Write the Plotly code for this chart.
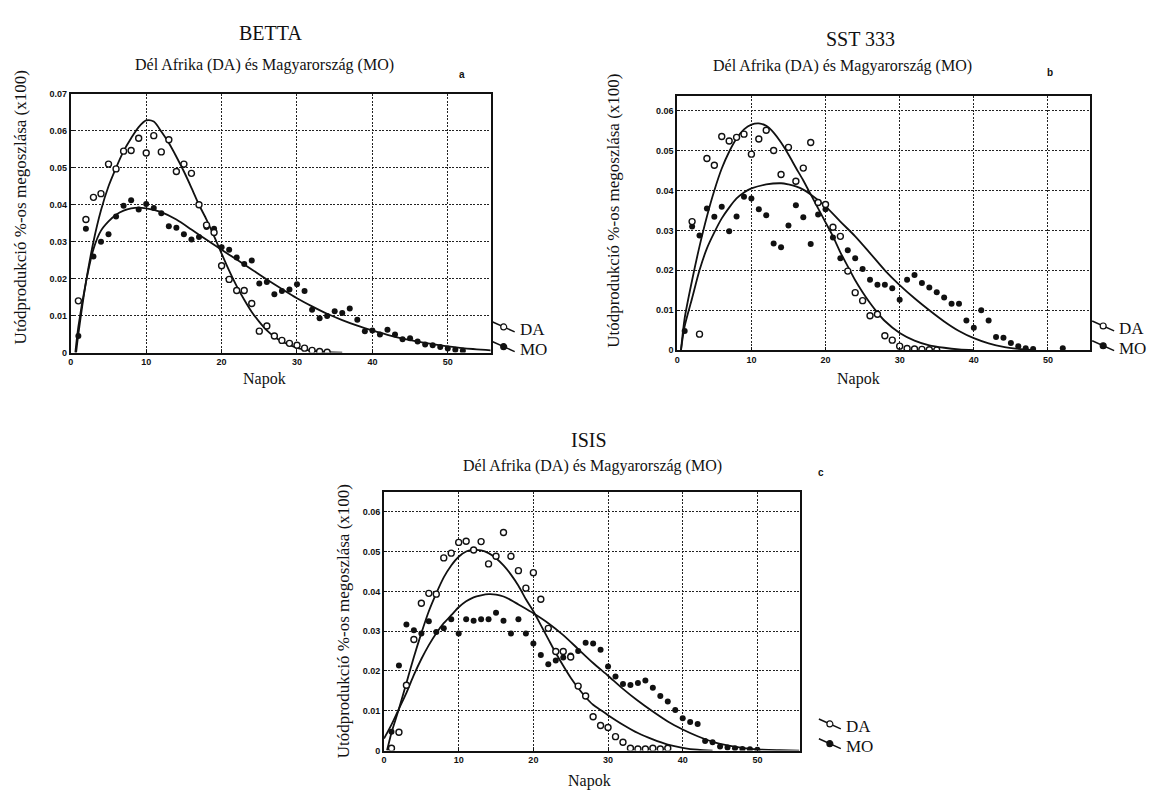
import plotly.graph_objects as go

# ---------------- DATA ----------------
# Panel a: BETTA
betta_da_days = list(range(1, 35))
betta_da = [0.014, 0.036, 0.042, 0.043, 0.051, 0.0497, 0.0545, 0.0547, 0.058, 0.054,
            0.0587, 0.0543, 0.0576, 0.049, 0.051, 0.0485, 0.040, 0.0345, 0.0325, 0.0235,
            0.0198, 0.0168, 0.0168, 0.0133, 0.0058, 0.0072, 0.0045, 0.0033, 0.0025, 0.002,
            0.0012, 0.0006, 0.0003, 0.0001]
betta_mo_days = list(range(1, 53))
betta_mo = [0.0045, 0.0335, 0.026, 0.030, 0.032, 0.0368, 0.0397, 0.0412, 0.0387, 0.0402,
            0.0391, 0.0377, 0.0342, 0.0338, 0.032, 0.0306, 0.0313, 0.034, 0.0335, 0.0285,
            0.0278, 0.0257, 0.024, 0.0249, 0.0187, 0.0191, 0.0158, 0.0167, 0.0171, 0.0185,
            0.0167, 0.0116, 0.0093, 0.0099, 0.0112, 0.0107, 0.0119, 0.0089, 0.0058, 0.006,
            0.0049, 0.0062, 0.0049, 0.0036, 0.0039, 0.003, 0.0022, 0.002, 0.0015, 0.0011,
            0.0008, 0.0005]
betta_da_fit_days = [0.7, 1, 2, 3, 4, 5, 6, 7, 8, 9, 10, 11, 12, 13, 14, 15, 16, 17, 18, 19,
                     20, 21, 22, 23, 24, 25, 26, 27, 28, 30, 32, 34, 36]
betta_da_fit = [0, 0.005, 0.019, 0.030, 0.0385, 0.045, 0.050, 0.0545, 0.058, 0.061, 0.0628,
                0.0625, 0.0598, 0.0567, 0.053, 0.049, 0.0446, 0.040, 0.036, 0.0315, 0.0268,
                0.0222, 0.018, 0.0143, 0.011, 0.0083, 0.006, 0.0043, 0.003, 0.0013, 0.0005,
                0.0001, 0]
betta_mo_fit_days = [0.6, 1, 2, 3, 4, 5, 6, 7, 8, 9, 10, 11, 12, 14, 16, 18, 20, 22, 24, 26,
                     28, 30, 32, 34, 36, 38, 40, 42, 44, 46, 48, 50, 52, 55.7]
betta_mo_fit = [0, 0.007, 0.019, 0.028, 0.033, 0.0355, 0.0373, 0.0384, 0.039, 0.0392, 0.039,
                0.0386, 0.038, 0.036, 0.0333, 0.0305, 0.0278, 0.0252, 0.0225, 0.0198, 0.0172,
                0.0147, 0.0125, 0.0105, 0.0088, 0.0073, 0.006, 0.0048, 0.0038, 0.003, 0.0023,
                0.0017, 0.0012, 0.0006]

# Panel b: SST 333
sst_da_days = list(range(2, 36))
sst_da = [0.0322, 0.004, 0.048, 0.0463, 0.0535, 0.0524, 0.0533, 0.0541, 0.0491, 0.0529,
          0.0551, 0.050, 0.044, 0.0508, 0.0423, 0.0456, 0.052, 0.037, 0.0365, 0.0308,
          0.0285, 0.0198, 0.0144, 0.0124, 0.0086, 0.009, 0.0036, 0.0025, 0.001, 0.0004,
          0.0003, 0.0002, 0.0001, 0.0]
sst_mo_days = list(range(1, 49)) + [52]
sst_mo = [0.0048, 0.031, 0.0287, 0.0355, 0.0334, 0.0359, 0.0298, 0.0335, 0.0384, 0.038,
          0.0353, 0.0338, 0.0267, 0.0258, 0.0312, 0.0363, 0.0333, 0.0266, 0.034, 0.0353,
          0.0282, 0.023, 0.025, 0.023, 0.0203, 0.0176, 0.0164, 0.0164, 0.0155, 0.0126,
          0.0176, 0.0188, 0.0168, 0.0157, 0.0145, 0.0132, 0.0116, 0.0116, 0.0074, 0.0056,
          0.010, 0.0074, 0.0033, 0.0031, 0.0018, 0.001, 0.0005, 0.0003, 0.0005]
sst_da_fit_days = [0.5, 1, 2, 3, 4, 5, 6, 7, 8, 9, 10, 11, 12, 13, 14, 15, 16, 17, 18, 19,
                   20, 21, 22, 23, 24, 25, 26, 27, 28, 30, 32, 34, 36, 38, 40]
sst_da_fit = [0, 0.008, 0.0175, 0.026, 0.0335, 0.040, 0.0455, 0.0497, 0.053, 0.0553, 0.0565,
              0.0568, 0.0562, 0.0545, 0.052, 0.049, 0.0457, 0.0425, 0.039, 0.0355, 0.032,
              0.0285, 0.0245, 0.021, 0.0175, 0.0145, 0.0118, 0.0094, 0.0073, 0.0043, 0.0024,
              0.0012, 0.0006, 0.0002, 0]
sst_mo_fit_days = [0.5, 1, 2, 3, 4, 5, 6, 7, 8, 9, 10, 12, 14, 15, 16, 17, 18, 20, 22, 24,
                   26, 28, 30, 32, 34, 36, 38, 40, 42, 44, 46, 48]
sst_mo_fit = [0, 0.006, 0.013, 0.02, 0.0255, 0.0295, 0.033, 0.0357, 0.038, 0.0395, 0.0405,
              0.0415, 0.0418, 0.0415, 0.041, 0.0402, 0.039, 0.036, 0.0322, 0.0285, 0.0243,
              0.02, 0.0163, 0.013, 0.010, 0.0072, 0.0048, 0.003, 0.0017, 0.0008, 0.0003, 0]

# Panel c: ISIS
isis_da_days = list(range(1, 39))
isis_da = [0.0006, 0.0046, 0.0164, 0.0279, 0.037, 0.0395, 0.0393, 0.0484, 0.0496, 0.0523,
           0.0526, 0.0504, 0.0525, 0.0469, 0.0488, 0.0548, 0.0488, 0.0452, 0.0408, 0.0447,
           0.038, 0.0307, 0.0249, 0.0249, 0.0235, 0.0162, 0.0137, 0.0085, 0.0063, 0.0058,
           0.0035, 0.0021, 0.0006, 0.0004, 0.0004, 0.0006, 0.0004, 0.0006]
isis_mo_days = list(range(1, 51))
isis_mo = [0.0047, 0.0214, 0.0317, 0.0302, 0.0294, 0.0325, 0.0298, 0.0307, 0.033, 0.0294,
           0.033, 0.0326, 0.033, 0.033, 0.0346, 0.0326, 0.0294, 0.033, 0.0294, 0.0269,
           0.024, 0.0217, 0.0226, 0.0234, 0.0239, 0.025, 0.0271, 0.0269, 0.0253, 0.0211,
           0.0186, 0.0167, 0.0165, 0.017, 0.0176, 0.0158, 0.0137, 0.0123, 0.0102, 0.0081,
           0.0072, 0.0067, 0.0024, 0.0021, 0.001, 0.0008, 0.0006, 0.0004, 0.0003, 0.0002]
isis_da_fit_days = [0.4, 1, 2, 3, 4, 5, 6, 7, 8, 9, 10, 11, 12, 13, 14, 15, 16, 17, 18, 19,
                    20, 21, 22, 23, 24, 25, 26, 27, 28, 29, 30, 32, 34, 36, 38, 40, 42, 44]
isis_da_fit = [0, 0.0045, 0.0105, 0.017, 0.0235, 0.0295, 0.035, 0.0395, 0.0435, 0.0465,
               0.0487, 0.050, 0.0504, 0.0503, 0.0496, 0.0483, 0.0465, 0.0442, 0.0414, 0.038,
               0.035, 0.0315, 0.028, 0.0245, 0.0213, 0.0183, 0.0157, 0.0134, 0.0115, 0.0102,
               0.0089, 0.0065, 0.0044, 0.0028, 0.0015, 0.0007, 0.0002, 0]
isis_mo_fit_days = [0, 1, 2, 3, 4, 5, 6, 7, 8, 9, 10, 11, 12, 13, 14, 15, 16, 17, 18, 20,
                    22, 24, 26, 28, 30, 32, 34, 36, 38, 40, 42, 44, 46, 48, 50, 53, 55.6]
isis_mo_fit = [0.003, 0.0065, 0.0105, 0.0145, 0.019, 0.023, 0.0265, 0.0295, 0.032, 0.034,
               0.036, 0.0375, 0.0385, 0.039, 0.0393, 0.0392, 0.0387, 0.0378, 0.0367, 0.0345,
               0.032, 0.029, 0.0255, 0.022, 0.0188, 0.0155, 0.0125, 0.0098, 0.0073, 0.0053,
               0.0036, 0.0022, 0.0013, 0.0007, 0.0003, 0.0001, 0]

x_ticks = [0, 10, 20, 30, 40, 50]
y_ticks_a = [0, 0.01, 0.02, 0.03, 0.04, 0.05, 0.06, 0.07]
y_ticks_bc = [0, 0.01, 0.02, 0.03, 0.04, 0.05, 0.06]

titles = ["BETTA", "SST 333", "ISIS"]
subtitle = "Dél Afrika (DA) és Magyarország (MO)"
ytitle = "Utódprodukció %-os megoszlása (x100)"
xtitle = "Napok"
letters = ["a", "b", "c"]

# ---------------- LAYOUT HELPERS ----------------
W, H = 1169, 800


def fx(px):
    return px / W


def fy(py):
    return 1 - py / H


SERIF = "Liberation Serif"
SANS = "Liberation Sans"

panels = [
    dict(x=betta_da_days, y=betta_da, x2=betta_mo_days, y2=betta_mo,
         fx1=betta_da_fit_days, fy1=betta_da_fit, fx2=betta_mo_fit_days, fy2=betta_mo_fit,
         px=(68, 489), py=(90, 352), yr=0.07, yt=y_ticks_a),
    dict(x=sst_da_days, y=sst_da, x2=sst_mo_days, y2=sst_mo,
         fx1=sst_da_fit_days, fy1=sst_da_fit, fx2=sst_mo_fit_days, fy2=sst_mo_fit,
         px=(676, 1090), py=(92, 349.5), yr=0.0637, yt=y_ticks_bc),
    dict(x=isis_da_days, y=isis_da, x2=isis_mo_days, y2=isis_mo,
         fx1=isis_da_fit_days, fy1=isis_da_fit, fx2=isis_mo_fit_days, fy2=isis_mo_fit,
         px=(382, 799), py=(493, 755), yr=0.065, yt=y_ticks_bc),
]

fig = go.Figure()
layout = dict(width=W, height=H, margin=dict(l=0, r=0, t=0, b=0),
              paper_bgcolor="white", plot_bgcolor="white", showlegend=False)

for i, p in enumerate(panels):
    n = "" if i == 0 else str(i + 1)
    xa, ya = "x" + n, "y" + n
    fig.add_trace(go.Scatter(x=p["fx1"], y=p["fy1"], mode="lines", xaxis=xa, yaxis=ya,
                             line=dict(color="#111", width=1.8, shape="spline", smoothing=0.8),
                             hoverinfo="skip"))
    fig.add_trace(go.Scatter(x=p["fx2"], y=p["fy2"], mode="lines", xaxis=xa, yaxis=ya,
                             line=dict(color="#111", width=1.8, shape="spline", smoothing=0.8),
                             hoverinfo="skip"))
    fig.add_trace(go.Scatter(x=p["x2"], y=p["y2"], mode="markers", xaxis=xa, yaxis=ya,
                             marker=dict(symbol="circle", size=6, color="#111",
                                         line=dict(width=0))))
    fig.add_trace(go.Scatter(x=p["x"], y=p["y"], mode="markers", xaxis=xa, yaxis=ya,
                             marker=dict(symbol="circle", size=6, color="white",
                                         line=dict(width=1.4, color="#111"))))
    common = dict(showline=True, linecolor="#111", linewidth=2, mirror=True,
                  showgrid=True, gridcolor="#222", gridwidth=1, griddash="2px,1.5px",
                  zeroline=False, ticks="inside", ticklen=3, tickcolor="#111",
                  tickfont=dict(family=SANS, size=9, color="#111", weight="bold"),
                  fixedrange=True)
    layout["xaxis" + n] = dict(common, domain=[fx(p["px"][0]), fx(p["px"][1])],
                               range=[0, 55.7], anchor=ya, tickvals=x_ticks,
                               ticktext=[str(t) for t in x_ticks])
    layout["yaxis" + n] = dict(common, domain=[fy(p["py"][1]), fy(p["py"][0])],
                               range=[0, p["yr"]], anchor=xa, tickvals=p["yt"],
                               ticktext=["0"] + ["%.2f" % t for t in p["yt"][1:]])

fig.update_layout(**layout)

# ---------------- TEXT ----------------
ann = []


def text(t, x, y, size, family=SERIF, angle=0, xanchor="center", weight=None):
    f = dict(family=family, size=size, color="#111")
    if weight:
        f["weight"] = weight
    ann.append(dict(text=t, x=fx(x), y=fy(y), xref="paper", yref="paper",
                    showarrow=False, textangle=angle, xanchor=xanchor, yanchor="middle",
                    font=f))


# titles (pixel positions of the reference)
title_pos = [(268, 28), (860, 34), (588, 441)]
sub_pos = [(262, 61), (842, 62), (591, 467)]
letter_pos = [(460, 70), (1050, 68), (820, 473)]
ytitle_pos = [(17, 205), (612, 208), (341, 624)]
xtitle_pos = [(262, 379), (858, 379), (588, 786)]
for i in range(3):
    text(titles[i], *title_pos[i], 20)
    text(subtitle, *sub_pos[i], 16)
    text(letters[i], *letter_pos[i], 10, family=SANS, weight="bold")
    text(ytitle, *ytitle_pos[i], 17, angle=-90)
    text(xtitle, *xtitle_pos[i], 16)

# legends
shapes = []
legend_pos = [(491, 321), (1092, 320), (818, 723)]
for (lx, ly) in legend_pos:
    for k, (lab, filled) in enumerate([("DA", False), ("MO", True)]):
        yy = ly + k * 20
        shapes.append(dict(type="line", xref="paper", yref="paper",
                           x0=fx(lx), y0=fy(yy), x1=fx(lx + 22), y1=fy(yy + 10),
                           line=dict(color="#111", width=1.5)))
        cx, cy = lx + 11, yy + 5
        shapes.append(dict(type="circle", xref="paper", yref="paper",
                           x0=fx(cx - 3), x1=fx(cx + 3), y0=fy(cy + 3), y1=fy(cy - 3),
                           fillcolor="#111" if filled else "white",
                           line=dict(color="#111", width=1.2)))
        text(lab, lx + 25, yy + 8, 17, xanchor="left")

fig.update_layout(annotations=ann, shapes=shapes)
fig.write_html("out.html")
